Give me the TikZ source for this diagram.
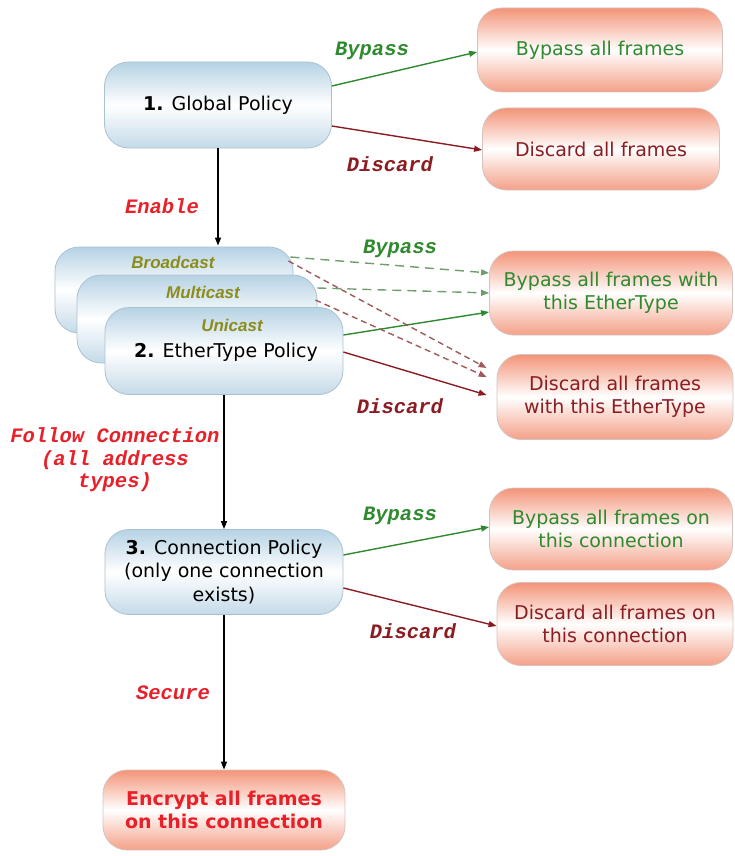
\documentclass[tikz,border=0pt]{standalone}
\usepackage{fontspec}
\setmainfont{DejaVu Sans}
\newfontfamily\lblfont{Liberation Mono}
\newfontfamily\castfont{Liberation Sans}
\usetikzlibrary{arrows.meta}
\definecolor{grn}{HTML}{2F8A2F}
\definecolor{grnd}{HTML}{6E9E6E}
\definecolor{drd}{HTML}{8B1C22}
\definecolor{drdd}{HTML}{A05A5A}
\definecolor{rd}{HTML}{E8202A}
\definecolor{olv}{HTML}{8C8C1C}
\definecolor{bluetop}{HTML}{B6D2E4}
\definecolor{bluebot}{HTML}{C4DAE8}
\definecolor{blueline}{HTML}{A9C2D2}
\definecolor{redtop}{HTML}{F39478}
\definecolor{redbot}{HTML}{F4A088}
\definecolor{redline}{HTML}{D4C4C0}
\tikzset{
  boxtext/.style={font=\fontsize{19}{23.5}\selectfont, align=center},
  policy/.style={rectangle, rounded corners=24pt, draw=blueline, line width=0.8pt,
    top color=bluetop, bottom color=bluebot, middle color=white, shading=axis, boxtext},
  result/.style={rectangle, rounded corners=24pt, draw=redline, line width=0.8pt,
    top color=redtop, bottom color=redbot, middle color=white, shading=axis, boxtext},
  lbl/.style={font=\fontsize{20.5}{22.5}\selectfont\lblfont\bfseries\itshape, align=center, inner sep=0pt},
  castlbl/.style={font=\fontsize{17}{19}\selectfont\castfont\bfseries\itshape, text=olv, inner sep=0pt},
  arr/.style={line width=1.4pt, -{Triangle[length=8pt,width=6pt]}},
  garr/.style={arr, draw=grn},
  rarr/.style={arr, draw=drd},
  gdash/.style={arr, draw=grnd, dash pattern=on 9pt off 6pt},
  rdash/.style={arr, draw=drdd, dash pattern=on 6pt off 4pt},
  karr/.style={arr, draw=black}
}
\begin{document}
\begin{tikzpicture}[x=1pt,y=-1pt]
\useasboundingbox (0,0) rectangle (735,856);
% level 1
\node[policy, minimum width=227pt, minimum height=86pt] (g1) at (218,105) {\textbf{1.} Global Policy};
\node[result, minimum width=245pt, minimum height=84pt, text=grn] (b1) at (600,50) {Bypass all frames};
\node[result, minimum width=237pt, minimum height=82pt, text=drd] (d1) at (601,149) {Discard all frames};
\draw[garr] ([yshift=19pt]g1.east) -- ([yshift=-2pt]b1.west);
\draw[rarr] ([yshift=-21pt]g1.east) -- ([yshift=-1pt]d1.west);
\node[lbl, text=grn] (lb1) at (372,51) {Bypass};
\node[lbl, text=drd] (ld1) at (390,164) {Discard};
% level 2
\node[policy, minimum width=238pt, minimum height=86pt] (bc) at (174,290) {};
\node[policy, minimum width=240pt, minimum height=88pt] (mc) at (197,319) {};
\node[policy, minimum width=238pt, minimum height=87pt] (uc) at (224,351) {};
\node[castlbl] (bcl) at (173,262) {Broadcast};
\node[castlbl] (mcl) at (203,292) {Multicast};
\node[castlbl] (ucl) at (232,325) {Unicast};
\node[boxtext, inner sep=0pt] (etl) at (226,352) {\textbf{2.} EtherType Policy};
\node[result, minimum width=243pt, minimum height=84pt, text=grn] (b2) at (611,293) {Bypass all frames with\\this EtherType};
\node[result, minimum width=236pt, minimum height=85pt, text=drd] (d2) at (615,397) {Discard all frames\\with this EtherType};
\coordinate (g1arr) at (g1.south |- bc.north);
\draw[karr] (g1.south) -- ([yshift=1pt]g1arr);
\node[lbl, text=rd] (len) at (162,206) {Enable};
\draw[gdash] ([xshift=-3pt,yshift=33pt]bc.east) -- ([yshift=20pt]b2.west);
\draw[gdash] ([yshift=31pt]mc.east) -- ([yshift=0pt]b2.west);
\draw[garr] ([yshift=16pt]uc.east) -- ([yshift=-19pt]b2.west);
\draw[rdash] ([xshift=-5pt,yshift=29pt]bc.east) -- ([xshift=-10pt,yshift=29pt]d2.west);
\draw[rdash] ([xshift=-2pt,yshift=19pt]mc.east) -- ([xshift=-10pt,yshift=20pt]d2.west);
\draw[rarr] ([yshift=-1pt]uc.east) -- ([xshift=-10pt,yshift=2pt]d2.west);
\node[lbl, text=grn] (lb2) at (400,249) {Bypass};
\node[lbl, text=drd] (ld2) at (400,406) {Discard};
% level 3
\node[policy, minimum width=238pt, minimum height=85pt] (g3) at (224,572) {\textbf{3.} Connection Policy\\(only one connection\\exists)};
\node[result, minimum width=243pt, minimum height=82pt, text=grn] (b3) at (611,529) {Bypass all frames on\\this connection};
\node[result, minimum width=236pt, minimum height=83pt, text=drd] (d3) at (615,624) {Discard all frames on\\this connection};
\draw[karr] (uc.south) -- (g3.north);
\node[lbl, text=rd] (lfc) at (115,460) {Follow Connection\\(all address\\types)};
\draw[garr] ([yshift=17pt]g3.east) -- ([yshift=2pt]b3.west);
\draw[rarr] ([yshift=-16pt]g3.east) -- ([yshift=-2pt]d3.west);
\node[lbl, text=grn] (lb3) at (400,516) {Bypass};
\node[lbl, text=drd] (ld3) at (413,631) {Discard};
% level 4
\node[result, minimum width=242pt, minimum height=80pt, text=rd, font=\fontsize{19}{23.5}\selectfont\bfseries] (enc) at (224,810) {Encrypt all frames\\on this connection};
\draw[karr] (g3.south) -- (enc.north);
\node[lbl, text=rd] (lsc) at (173,693) {Secure};
\end{tikzpicture}
\end{document}
